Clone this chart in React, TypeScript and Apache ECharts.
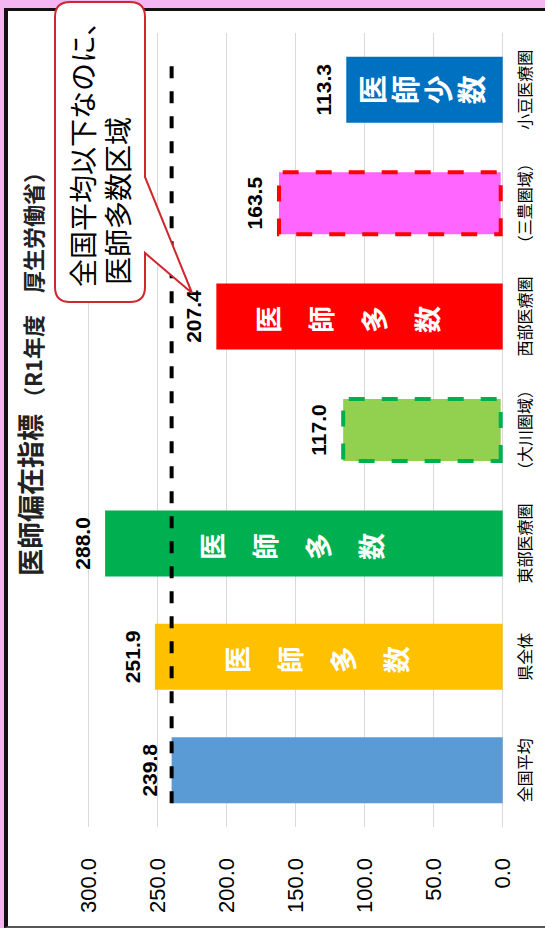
import React, { useEffect, useRef } from "react";
import * as echarts from "echarts";

// ---- data ----
const CATEGORIES = ["全国平均", "県全体", "東部医療圏", "（大川圏域）", "西部医療圏", "（三豊圏域）", "小豆医療圏"];
const VALUES = [239.8, 251.9, 288.0, 117.0, 207.4, 163.5, 113.3];
const BAR_COLORS = ["#5B9BD5", "#FFC000", "#00B050", "#92D050", "#FF0000", "#FF66FF", "#0070C0"];
const BORDER_COLORS = ["", "", "", "#00B050", "", "#FF0000", ""];
const INSIDE_TEXT = ["", "医師多数", "医師多数", "", "医師多数", "", "医師少数"];
const Y_MIN = 0;
const Y_MAX = 300;
const Y_INTERVAL = 50;
const NATIONAL_AVERAGE = VALUES[0];
const TITLE_MAIN = "医師偏在指標";
const TITLE_SUB = "（R1年度　厚生労働省）";
const CALLOUT_LINES = ["全国平均以下なのに、", "医師多数区域"];

// ---- style ----
const PINK = "#F3B6F3";
const NUM_FONT = "'Liberation Sans', Arial, 'Noto Sans CJK JP', sans-serif";
const CJK_FONT = "'Noto Sans CJK JP', 'Liberation Sans', sans-serif";
const W = 928;
const H = 545;
const BAR_WIDTH = 66;
const GRID = { left: 101, right: 33, top: 88.5, bottom: 42.3 };

const CALLOUT_D =
  "M641 55 L911 55 Q926 55 926 70 L926 130 Q926 145 911 145 L751 145 L635 192 L675 145 L641 145 Q626 145 626 130 L626 70 Q626 55 641 55 Z";
echarts.graphic.registerShape("callout", echarts.graphic.extendPath(CALLOUT_D, {}) as any);

function buildOption(): any {
  const band = (W - GRID.left - GRID.right) / CATEGORIES.length;
  const half = BAR_WIDTH / 2 / band;

  const mainData = VALUES.map((v, i) => ({
    value: v,
    itemStyle: {
      color: BAR_COLORS[i],
      borderColor: BORDER_COLORS[i] || BAR_COLORS[i],
      borderWidth: BORDER_COLORS[i] ? 4 : 0,
      borderType: BORDER_COLORS[i] ? [16, 17] : "solid",
    },
  }));

  const overlayData = VALUES.map((v, i) => {
    const t = INSIDE_TEXT[i];
    if (!t) return { value: v, label: { show: false } };
    const few = t === "医師少数";
    return {
      value: v,
      label: {
        show: true,
        position: "inside",
        formatter: t.split("").join("\n"),
        color: "#fff",
        fontWeight: "bold",
        fontFamily: CJK_FONT,
        fontSize: few ? 29 : 27,
        lineHeight: few ? 33 : 53,
        offset: few ? [0, -4] : [-3, -13],
      },
    };
  });

  return {
    animation: false,
    backgroundColor: "transparent",
    title: {
      text: `{a|${TITLE_MAIN}}{b| ${TITLE_SUB}}`,
      left: 352,
      top: 13,
      padding: 0,
      textStyle: {
        rich: {
          a: { fontSize: 27, fontWeight: "bold", color: "#222", fontFamily: CJK_FONT, lineHeight: 30, verticalAlign: "bottom" },
          b: { fontSize: 22, fontWeight: "bold", color: "#222", fontFamily: CJK_FONT, lineHeight: 30, verticalAlign: "bottom" },
        },
      },
    },
    grid: GRID,
    xAxis: [
      {
        type: "category",
        data: CATEGORIES,
        axisTick: { show: false },
        axisLine: { lineStyle: { color: "#D9D9D9", width: 1 } },
        axisLabel: { interval: 0, fontSize: 16, color: "#000", margin: 13, fontFamily: CJK_FONT },
      },
      { type: "value", min: -0.5, max: CATEGORIES.length - 0.5, show: false },
    ],
    yAxis: {
      type: "value",
      min: Y_MIN,
      max: Y_MAX,
      interval: Y_INTERVAL,
      axisLine: { show: false },
      axisTick: { show: false },
      splitLine: { lineStyle: { color: "#D9D9D9", width: 1 } },
      axisLabel: {
        formatter: (v: number) => v.toFixed(1),
        fontSize: 22,
        color: "#000",
        margin: 31,
        fontFamily: NUM_FONT,
      },
    },
    series: [
      {
        type: "bar",
        xAxisIndex: 0,
        barWidth: BAR_WIDTH,
        data: mainData,
        label: {
          show: true,
          position: "top",
          distance: 12,
          formatter: (p: any) => Number(p.value).toFixed(1),
          fontSize: 21,
          fontWeight: "bold",
          color: "#000",
          fontFamily: NUM_FONT,
        },
        z: 2,
      },
      {
        type: "bar",
        xAxisIndex: 0,
        barWidth: BAR_WIDTH,
        barGap: "-100%",
        silent: true,
        itemStyle: { color: "rgba(0,0,0,0)" },
        data: overlayData,
        z: 3,
      },
      {
        type: "line",
        xAxisIndex: 1,
        yAxisIndex: 0,
        symbol: "none",
        silent: true,
        data: [
          [-half, NATIONAL_AVERAGE],
          [CATEGORIES.length - 1 + half, NATIONAL_AVERAGE],
        ],
        lineStyle: { color: "#000", width: 4, type: [12, 13] },
        z: 10,
      },
    ],
    graphic: [
      {
        type: "callout",
        x: 0,
        y: 0,
        z: 100,
        style: { fill: "#fff", stroke: "#D0262E", lineWidth: 2 },
      },
      {
        type: "text",
        x: 641,
        y: 82,
        z: 101,
        style: {
          text: CALLOUT_LINES[0],
          fontSize: 28,
          fontFamily: CJK_FONT,
          fill: "#000",
          align: "left",
          verticalAlign: "middle",
          textAlign: "left",
          textVerticalAlign: "middle",
        },
      },
      {
        type: "text",
        x: 643,
        y: 117,
        z: 101,
        style: {
          text: CALLOUT_LINES[1],
          fontSize: 28,
          fontFamily: CJK_FONT,
          fill: "#000",
          align: "left",
          verticalAlign: "middle",
          textAlign: "left",
          textVerticalAlign: "middle",
        },
      },
    ],
  };
}

export default function App() {
  const ref = useRef<HTMLDivElement>(null);
  useEffect(() => {
    if (!ref.current) return;
    const chart = echarts.init(ref.current, null, { renderer: "svg" });
    chart.setOption(buildOption());
    return () => chart.dispose();
  }, []);
  return (
    <div style={{ position: "fixed", left: 0, top: 0, width: 545, height: 928, background: PINK, overflow: "hidden" }}>
      <div
        style={{
          position: "absolute",
          left: 4,
          top: 8,
          width: 600,
          height: 920,
          boxSizing: "border-box",
          background: "#fff",
          borderLeft: "4px solid #111",
          borderTop: "3px solid #111",
          borderBottom: "2px solid #555",
        }}
      />
      <div
        ref={ref}
        style={{
          position: "absolute",
          left: 0,
          top: 0,
          width: W,
          height: H,
          transformOrigin: "0 0",
          transform: `translateY(${W}px) rotate(-90deg)`,
        }}
      />
    </div>
  );
}
